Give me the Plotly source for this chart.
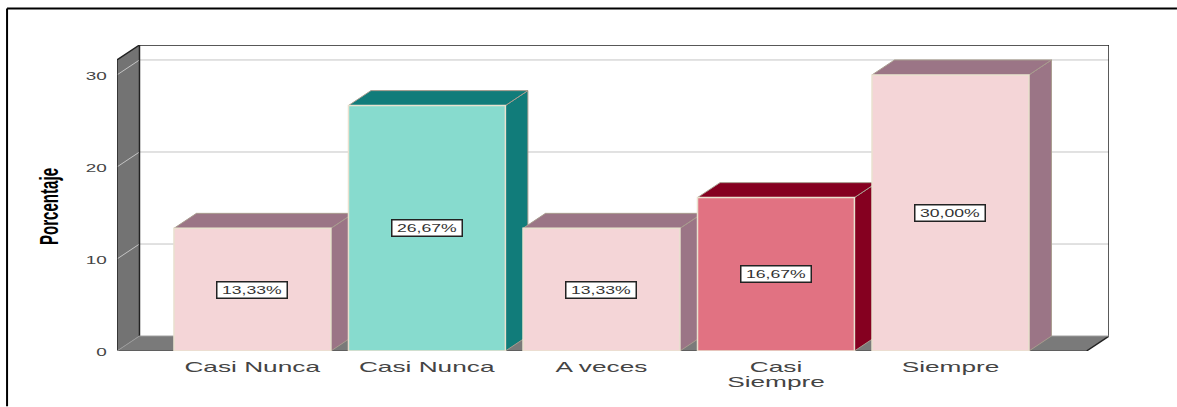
import plotly.graph_objects as go

categories = ["Casi Nunca", "Casi Nunca", "A veces", "Casi<br>Siempre", "Siempre"]
values = [13.33, 26.67, 13.33, 16.67, 30.00]
value_labels = ["13,33%", "26,67%", "13,33%", "16,67%", "30,00%"]
y_ticks = [0, 10, 20, 30]
front_colors = ["#F4D5D7", "#87DBCE", "#F4D5D7", "#E17282", "#F4D5D7"]
side_colors = ["#9B7586", "#117C7A", "#9B7586", "#850020", "#9B7586"]

W, H = 1177, 407
L, R, T, B = 116.5, 1109.0, 44.5, 351.5   # plot-area edges in the page
STEP = 174.6
FIRST_CENTER = 252.0
PX_PER_UNIT = 9.233
DX = 22.5 / STEP
DY = 15.0 / PX_PER_UNIT
BAR_W = 157.0 / STEP
x_min = (L - FIRST_CENTER) / STEP
x_max = (R - FIRST_CENTER) / STEP
y_max = (B - T) / PX_PER_UNIT
x_front_right = x_max - DX
y_front_top = y_max - DY


def path(points):
    return "M " + " L ".join(f"{x:.4f},{y:.4f}" for x, y in points) + " Z"


def poly(points, fill, line="rgba(0,0,0,0)", width=0):
    return dict(type="path", path=path(points), xref="x", yref="y", layer="below",
                fillcolor=fill, line=dict(color=line, width=width))


def seg(points, color, width):
    return dict(type="path", path="M " + " L ".join(f"{x:.4f},{y:.4f}" for x, y in points),
                xref="x", yref="y", layer="below", line=dict(color=color, width=width))


shapes = []
# walls
shapes.append(poly([(x_min, 0), (x_min + DX, DY), (x_min + DX, y_max), (x_min, y_front_top)], "#737373"))
shapes.append(poly([(x_min, 0), (x_front_right, 0), (x_max, DY), (x_min + DX, DY)], "#7A7A7A"))
# grid lines
for t in y_ticks[1:]:
    shapes.append(seg([(x_min, t), (x_min + DX, t + DY), (x_max, t + DY)], "#C4C4C4", 1))
# wall outlines
shapes.append(seg([(x_min, 0), (x_min, y_front_top), (x_min + DX, y_max), (x_max, y_max), (x_max, DY), (x_front_right, 0)], "#222222", 1.5))
shapes.append(seg([(x_min + DX, DY), (x_min + DX, y_max)], "#222222", 1.5))
shapes.append(seg([(x_min, 0), (x_front_right, 0)], "#444444", 1))
shapes.append(seg([(x_min, 0), (x_min + DX, DY), (x_max, DY)], "#9A9A9A", 1))
# outer frame
shapes.append(dict(type="line", xref="paper", yref="paper", layer="below",
                   x0=(6.5 - L) / (R - L), x1=(W - L) / (R - L),
                   y0=(B - 8) / (B - T), y1=(B - 8) / (B - T), line=dict(color="#000000", width=2)))
shapes.append(dict(type="line", xref="paper", yref="paper", layer="below",
                   x0=(6.5 - L) / (R - L), x1=(6.5 - L) / (R - L),
                   y0=(B - H) / (B - T), y1=(B - 8) / (B - T), line=dict(color="#000000", width=2)))
# bar depth faces
edge = "#A89C8E"
for i, v in enumerate(values):
    xl, xr = i - BAR_W / 2, i + BAR_W / 2
    shapes.append(poly([(xr, 0), (xr + DX, DY), (xr + DX, v + DY), (xr, v)], side_colors[i], edge, 1))
    shapes.append(poly([(xl, v), (xr, v), (xr + DX, v + DY), (xl + DX, v + DY)], side_colors[i], edge, 1))

fig = go.Figure(go.Bar(
    x=list(range(len(values))), y=values, width=BAR_W,
    marker=dict(color=front_colors, line=dict(color="#E9E1CF", width=1.5)),
    hoverinfo="skip",
))

annotations = [
    dict(x=i, y=v / 2, xref="x", yref="y", text=value_labels[i], showarrow=False,
         font=dict(family="Liberation Sans", size=11, color="#333333"),
         bgcolor="#FFFFFF", bordercolor="#222222", borderwidth=1.5, borderpad=1,
         width=67, height=13, align="center", valign="middle")
    for i, v in enumerate(values)
]

fig.update_layout(
    width=W, height=H, autosize=False, showlegend=False,
    margin=dict(l=L, r=W - R, t=T, b=H - B, pad=0),
    paper_bgcolor="#FFFFFF", plot_bgcolor="#FFFFFF",
    shapes=shapes, annotations=annotations,
    xaxis=dict(range=[x_min, x_max], tickmode="array", tickvals=list(range(len(values))),
               ticktext=categories, ticks="", showgrid=False, zeroline=False, showline=False,
               ticklabelstandoff=5,
               tickfont=dict(family="Liberation Sans", size=15, color="#444444"), tickangle=0),
    yaxis=dict(range=[0, y_max], tickmode="array", tickvals=y_ticks,
               ticks="outside", ticklen=7, tickcolor="rgba(0,0,0,0)",
               showgrid=False, zeroline=False, showline=False,
               tickfont=dict(family="Liberation Sans", size=11, color="#444444"),
               title=dict(text="<b>Porcentaje</b>", standoff=22,
                          font=dict(family="Liberation Sans", size=26, color="#000000"))),
)

# The reference's text is horizontally stretched (and its axis title condensed); SVG text
# stays real text, only its horizontal scale and the page's default margin are adjusted.
POST = """
document.body.style.margin = '0';
var gd = document.getElementById('{plot_id}');
function sx(el, s, pivot) {
  var b = el.getBBox();
  var c = pivot === 'right' ? b.x + b.width : b.x + b.width / 2;
  var t = el.getAttribute('transform') || '';
  el.setAttribute('transform', t + ' translate(' + c + ',0) scale(' + s + ',1) translate(' + (-c) + ',0)');
}
gd.querySelectorAll('.xtick text').forEach(function (el) {
  var lines = el.querySelectorAll('tspan.line');
  if (lines.length > 1) { lines[1].setAttribute('dy', '15px'); }
  sx(el, 1.75);
});
gd.querySelectorAll('.ytick text').forEach(function (el) {
  sx(el, 1.72, 'right');
  el.setAttribute('transform', 'translate(0,1.5) ' + el.getAttribute('transform'));
});
gd.querySelectorAll('.annotation-text').forEach(function (el) { sx(el, 1.6); });
var ttl = gd.querySelector('.ytitle');
if (ttl) {
  sx(ttl, 0.58);
  ttl.setAttribute('transform', 'translate(-6,8.5) ' + ttl.getAttribute('transform'));
}
"""

fig.write_html("out.html", post_script=POST, config={"displayModeBar": False})
